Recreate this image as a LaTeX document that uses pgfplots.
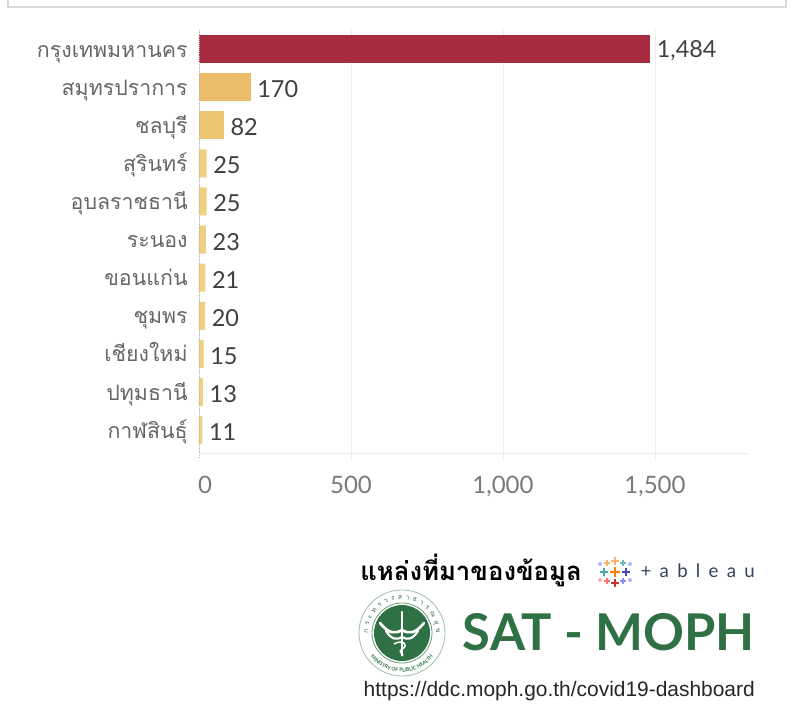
\documentclass[border=0pt]{standalone}
\usepackage{pgfplots}
\pgfplotsset{compat=1.18}
\usepackage{fontspec}
\setmainfont{Lato}
\newfontfamily\thaifont[Script=Thai]{Loma}
\newfontfamily\urlfont{Liberation Sans}
\usetikzlibrary{decorations.text}
\definecolor{cred}{HTML}{A82C3F}
\definecolor{cor}{HTML}{EBBD6B}
\definecolor{cmid}{HTML}{EDC674}
\definecolor{clo}{HTML}{EDD080}
\definecolor{cgreen}{HTML}{2F7145}
\definecolor{gridc}{HTML}{EDEDED}
\definecolor{ctab}{HTML}{33425E}
\begin{document}
\begin{tikzpicture}
\begin{scope}[x=0.75pt,y=-0.75pt]
\path[use as bounding box] (0,0) rectangle (810,718);
\draw[color=black!15,line width=1pt] (8,0) -- (8,7) -- (786,7) -- (786,0);
\end{scope}
\begin{axis}[
  at={(149.25pt,-339.75pt)}, anchor=south west,
  scale only axis, width=411.75pt, height=317.25pt,
  xmin=0, xmax=1806, ymin=-0.5, ymax=10.6,
  y dir=reverse,
  xbar, bar width=21pt, bar shift=0pt,
  clip=false,
  axis line style={draw=none},
  xtick={0,500,1000,1500},
  xticklabels={\hspace*{9pt}0,500,{1,000},{1,500}},
  ytick={0,1,2,3,4,5,6,7,8,9,10},
  yticklabels={กรุงเทพมหานคร,สมุทรปราการ,ชลบุรี,สุรินทร์,อุบลราชธานี,ระนอง,ขอนแก่น,ชุมพร,เชียงใหม่,ปทุมธานี,กาฬสินธุ์},
  xmajorgrids, grid style={gridc,line width=0.7pt},
  major tick length=0pt,
  /pgf/number format/assume math mode=true,
  /pgf/number format/1000 sep={,},
  xticklabel style={font=\fontsize{18pt}{20pt}\selectfont, text=black!52, yshift=-14pt},
  yticklabel style={font=\thaifont\fontsize{16pt}{18pt}\selectfont, text=black!60, anchor=east, xshift=-5pt, text height=14pt, text depth=2pt},
  nodes near coords,
  nodes near coords style={font=\fontsize{17.6pt}{20pt}\selectfont, text=black!75, anchor=west, xshift=1.5pt, yshift=-1.5pt},
]
\addplot[draw=none,fill=cred] coordinates {(1484,0)};
\addplot[draw=none,fill=cor] coordinates {(170,1)};
\addplot[draw=none,fill=cmid] coordinates {(82,2)};
\addplot[draw=none,fill=clo] coordinates {(25,3) (25,4) (23,5) (21,6) (20,7) (15,8) (13,9) (11,10)};
\draw[gridc,line width=0.7pt] (axis cs:0,10.6) -- (axis cs:1806,10.6);
\draw[black!30,densely dotted,line width=0.6pt] (axis cs:0,-0.5) -- (axis cs:0,10.75);
\foreach \v in {500,1000,1500} {\edef\tmp{\noexpand\draw[gridc,line width=0.7pt] (axis cs:\v,10.6) -- (axis cs:\v,10.75);}\tmp}
\end{axis}
\begin{scope}[x=0.75pt,y=-0.75pt]
% source block
\node[anchor=west,inner sep=0,text=black] at (360,570) {\thaifont\bfseries\fontsize{19.3pt}{22pt}\selectfont แหล่งที่มาของข้อมูล};
\node[anchor=east,inner sep=0,text=ctab] at (755,571) {\fontsize{14pt}{15pt}\selectfont +\hspace{6.2pt}a\hspace{6.2pt}b\hspace{6.2pt}l\hspace{6.2pt}e\hspace{6.2pt}a\hspace{6.2pt}u};
\foreach \cx/\cy/\s/\c in {615/572/5/orange,
  604/572/4/teal!70, 626/572/4/blue!45!gray, 615/561/4/orange!60, 615/583/4/red!60!gray,
  607/563/3/orange!60, 623/563/3/teal!55, 607/581/3/red!55, 623/581/3/blue!45,
  600/564/2/blue!30, 630/564/2/blue!30, 600/580/2/red!30, 630/580/2/blue!30}
  {\draw[\c,line width=1.1pt] (\cx-\s,\cy) -- (\cx+\s,\cy) (\cx,\cy-\s) -- (\cx,\cy+\s);}
% emblem
\fill[white] (402,633) circle (43);
\draw[cgreen!45,line width=0.6pt] (402,633) circle (43);
\fill[cgreen] (402,633) circle (28);
\draw[cgreen!70,line width=0.6pt] (402,633) circle (30);
\path[decorate,decoration={text along path,text align=fit to path,
  text={|\thaifont\fontsize{5pt}{6pt}\selectfont\color{cgreen}|กระทรวงสาธารณ{สุ}ข}}]
  (402-34,633) arc[start angle=180,end angle=0,x radius=34,y radius=-34];
\path[decorate,decoration={text along path,text align=center,
  text={|\bfseries\fontsize{3.8pt}{5pt}\selectfont\color{cgreen}|MINISTRY OF PUBLIC HEALTH}}]
  (402-39,633) arc[start angle=180,end angle=360,x radius=39,y radius=-39];
\draw[white,line width=2pt,line cap=round] (402,612) -- (402,655);
\draw[white,line width=2pt,line cap=round] (380,623) .. controls (389,634) and (395,634) .. (402,630) .. controls (409,634) and (415,634) .. (424,623);
\draw[white,line width=1.6pt,line cap=round] (386,631) .. controls (392,640) and (397,640) .. (402,637) .. controls (407,640) and (412,640) .. (418,631);
\draw[white,line width=1.2pt] (394,644) .. controls (402,639) and (410,645) .. (402,649) .. controls (397,652) and (405,654) .. (402,656);
% SAT - MOPH
\node[anchor=east,inner sep=0,text=cgreen] at (755,632) {\bfseries\fontsize{38pt}{40pt}\selectfont SAT - MOPH};
\node[anchor=east,inner sep=0,text=black!85] at (755,691) {\urlfont\fontsize{15.7pt}{17pt}\selectfont https://ddc.moph.go.th/covid19-dashboard};
\end{scope}
\end{tikzpicture}
\end{document}
